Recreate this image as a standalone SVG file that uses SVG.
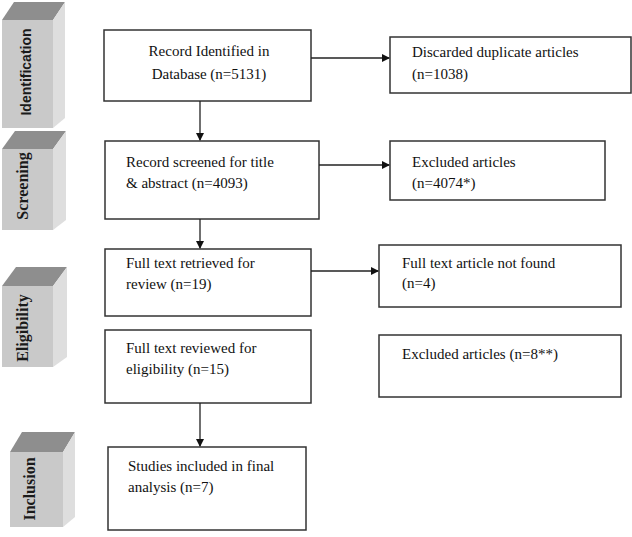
<svg xmlns="http://www.w3.org/2000/svg" width="632" height="537" viewBox="0 0 632 537">
<defs>
<marker id="ah" markerWidth="8" markerHeight="8" refX="7" refY="4" orient="auto" markerUnits="userSpaceOnUse">
<path d="M0,0 L8,4 L0,8 Z" fill="#111"/>
</marker>
<style>
.box{fill:#fff;stroke:#333;stroke-width:1.5}
.t{font-family:"Liberation Serif","Times New Roman",serif;font-size:15px;fill:#111}
.c{stroke:#222;stroke-width:1.3;fill:none}
.front{fill:#c9c9c9}
.top{fill:#8e8e8e}
.side{fill:#dedede}
.lbl{font-family:"Liberation Serif",serif;font-size:16px;font-weight:bold;fill:#1a1a1a}
</style>
</defs>
<rect width="632" height="537" fill="#fff"/>

<g id="stage-identification">
<polygon class="top" points="2,20 53,20 65,2 14,2"/>
<polygon class="side" points="53,20 65,2 65,118 53,128"/>
<rect class="front" x="2" y="20" width="51" height="108"/>
<text x="31" y="72" transform="rotate(-90 31 72)" text-anchor="middle" font-family="Liberation Sans, Arial, sans-serif" font-size="14" font-weight="bold" fill="#1a1a1a">Identification</text>
</g>

<g id="stage-screening">
<polygon class="top" points="2,149 53,149 66,131 15,131"/>
<polygon class="side" points="53,149 66,131 66,220 53,230"/>
<rect class="front" x="2" y="149" width="51" height="81"/>
<text x="28" y="186" transform="rotate(-90 28 186)" text-anchor="middle" class="lbl">Screening</text>
</g>

<g id="stage-eligibility">
<polygon class="top" points="2,286 53,286 67,267 16,267"/>
<polygon class="side" points="53,286 67,267 67,357 53,367"/>
<rect class="front" x="2" y="286" width="51" height="81"/>
<text x="28" y="328" transform="rotate(-90 28 328)" text-anchor="middle" class="lbl">Eligibility</text>
</g>

<g id="stage-inclusion">
<polygon class="top" points="10,452 63,452 75,432 22,432"/>
<polygon class="side" points="63,452 75,432 75,517 63,527"/>
<rect class="front" x="10" y="452" width="53" height="75"/>
<text x="35" y="489" transform="rotate(-90 35 489)" text-anchor="middle" class="lbl">Inclusion</text>
</g>

<g id="n-identified">
<rect class="box" x="104" y="30" width="207" height="71"/>
<text class="t" x="209" y="56" text-anchor="middle">Record Identified in</text>
<text class="t" x="209" y="79" text-anchor="middle">Database (n=5131)</text>
</g>

<g id="n-discarded">
<rect class="box" x="390" y="37" width="241" height="56"/>
<text class="t" x="412" y="57">Discarded duplicate articles</text>
<text class="t" x="412" y="79">(n=1038)</text>
</g>

<g id="n-screened">
<rect class="box" x="105" y="141" width="214" height="78"/>
<text class="t" x="126" y="167">Record screened for title</text>
<text class="t" x="126" y="188">&amp; abstract (n=4093)</text>
</g>

<g id="n-excluded1">
<rect class="box" x="390" y="141" width="215" height="59"/>
<text class="t" x="412" y="167">Excluded articles</text>
<text class="t" x="412" y="188">(n=4074*)</text>
</g>

<g id="n-retrieved">
<rect class="box" x="105" y="249" width="206" height="67"/>
<text class="t" x="126" y="268">Full text retrieved for</text>
<text class="t" x="126" y="289">review (n=19)</text>
</g>

<g id="n-notfound">
<rect class="box" x="379" y="245" width="242" height="62"/>
<text class="t" x="402" y="268">Full text article not found</text>
<text class="t" x="402" y="288">(n=4)</text>
</g>

<g id="n-reviewed">
<rect class="box" x="105" y="330" width="206" height="73"/>
<text class="t" x="126" y="353">Full text reviewed for</text>
<text class="t" x="126" y="374">eligibility (n=15)</text>
</g>

<g id="n-excluded2">
<rect class="box" x="379" y="335" width="242" height="62"/>
<text class="t" x="402" y="359">Excluded articles (n=8**)</text>
</g>

<g id="n-included">
<rect class="box" x="108" y="447" width="198" height="83"/>
<text class="t" x="128" y="471">Studies included in final</text>
<text class="t" x="128" y="492">analysis (n=7)</text>
</g>

<g id="connectors">
<line class="c" x1="311" y1="58" x2="389" y2="58" marker-end="url(#ah)"/>
<line class="c" x1="319" y1="165" x2="389" y2="165" marker-end="url(#ah)"/>
<line class="c" x1="311" y1="271" x2="378" y2="271" marker-end="url(#ah)"/>
<line class="c" x1="200" y1="101" x2="200" y2="140" marker-end="url(#ah)"/>
<line class="c" x1="200" y1="219" x2="200" y2="248" marker-end="url(#ah)"/>
<line class="c" x1="200" y1="403" x2="200" y2="446" marker-end="url(#ah)"/>
</g>
</svg>
